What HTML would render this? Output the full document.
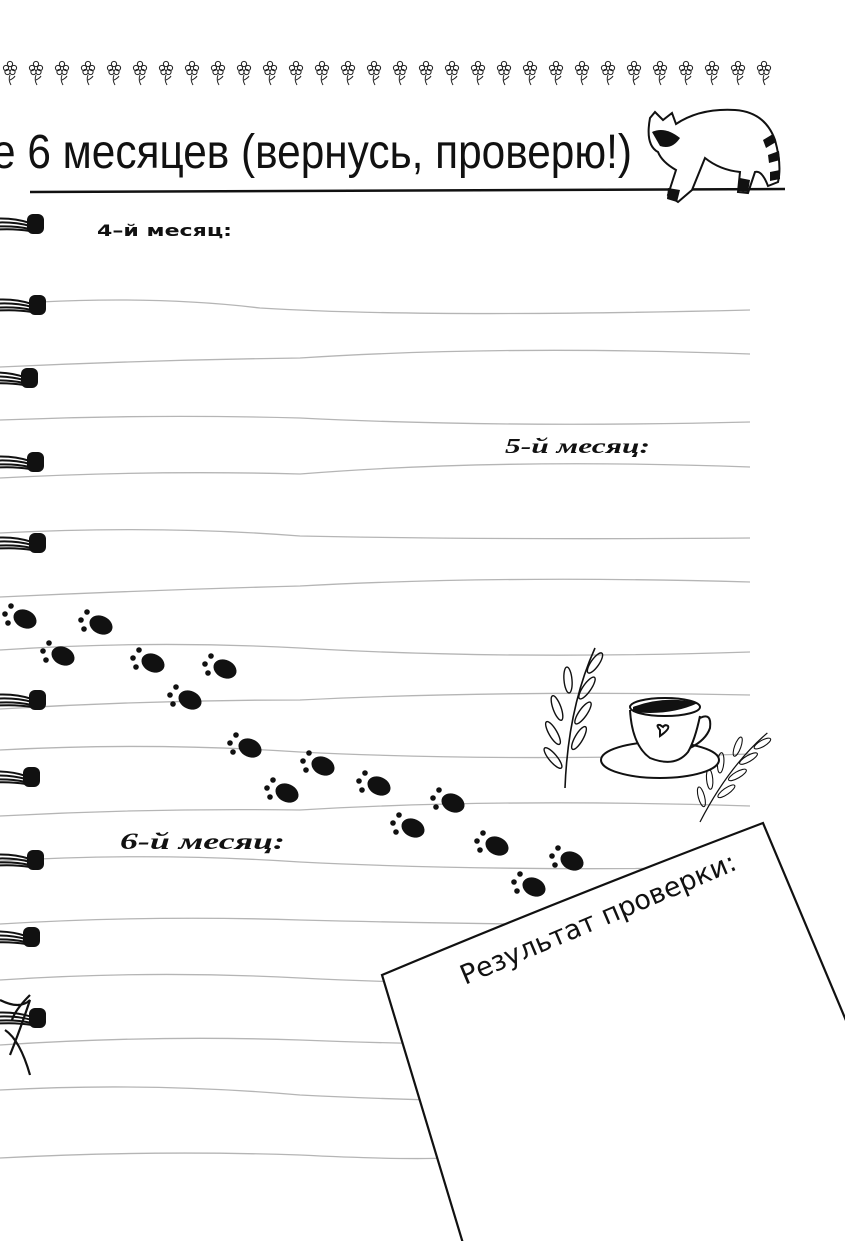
<!DOCTYPE html>
<html><head><meta charset="utf-8"><style>
html,body{margin:0;padding:0;background:#fff;}
svg{display:block;}
</style></head><body>
<svg width="845" height="1241" viewBox="0 0 845 1241" xmlns="http://www.w3.org/2000/svg">
<defs>
<g id="fl">
 <circle cx="0" cy="-4" r="2.6" fill="none" stroke="#222" stroke-width="1"/>
 <circle cx="-4" cy="0" r="2.6" fill="none" stroke="#222" stroke-width="1"/>
 <circle cx="4" cy="0" r="2.6" fill="none" stroke="#222" stroke-width="1"/>
 <circle cx="-2.5" cy="4" r="2.6" fill="none" stroke="#222" stroke-width="1"/>
 <circle cx="2.5" cy="4" r="2.6" fill="none" stroke="#222" stroke-width="1"/>
 <path d="M0 7 Q-2 12 1 17 M0 12 q4 -2 5 -4" fill="none" stroke="#222" stroke-width="1"/>
</g>
<g id="paw">
 <ellipse cx="9" cy="3" rx="12" ry="9" transform="rotate(25 9 3)" fill="#111"/>
 <circle cx="-5" cy="-10" r="2.8" fill="#111"/>
 <circle cx="-11" cy="-2" r="2.8" fill="#111"/>
 <circle cx="-8" cy="7" r="2.8" fill="#111"/>
</g>
<g id="ring">
 <path d="M-10 -5 Q12 -7 30 -1 M-10 -1 Q12 -3 30 2 M-10 3 Q12 1 30 5 M-10 6 Q12 4 30 7" fill="none" stroke="#111" stroke-width="2"/>
 <rect x="27" y="-10" width="17" height="20" rx="6" fill="#111"/>
</g>
<g id="leaf">
 <path d="M0 0 Q3 -80 30 -140" fill="none" stroke="#111" stroke-width="1.6"/>
 <g fill="none" stroke="#111" stroke-width="1.4">
  <ellipse cx="-12" cy="-30" rx="4" ry="13" transform="rotate(-40 -12 -30)"/>
  <ellipse cx="-12" cy="-55" rx="4" ry="13" transform="rotate(-30 -12 -55)"/>
  <ellipse cx="-8" cy="-80" rx="4" ry="13" transform="rotate(-20 -8 -80)"/>
  <ellipse cx="14" cy="-50" rx="4" ry="13" transform="rotate(30 14 -50)"/>
  <ellipse cx="18" cy="-75" rx="4" ry="13" transform="rotate(35 18 -75)"/>
  <ellipse cx="22" cy="-100" rx="4" ry="13" transform="rotate(35 22 -100)"/>
  <ellipse cx="3" cy="-108" rx="4" ry="13" transform="rotate(-5 3 -108)"/>
  <ellipse cx="30" cy="-125" rx="4" ry="12" transform="rotate(35 30 -125)"/>
 </g>
</g>
</defs>

<!-- flowers -->
<g>
 <use href="#fl" x="10" y="68"/><use href="#fl" x="36" y="68"/><use href="#fl" x="62" y="68"/><use href="#fl" x="88" y="68"/><use href="#fl" x="114" y="68"/><use href="#fl" x="140" y="68"/><use href="#fl" x="166" y="68"/><use href="#fl" x="192" y="68"/><use href="#fl" x="218" y="68"/><use href="#fl" x="244" y="68"/><use href="#fl" x="270" y="68"/><use href="#fl" x="296" y="68"/><use href="#fl" x="322" y="68"/><use href="#fl" x="348" y="68"/><use href="#fl" x="374" y="68"/><use href="#fl" x="400" y="68"/><use href="#fl" x="426" y="68"/><use href="#fl" x="452" y="68"/><use href="#fl" x="478" y="68"/><use href="#fl" x="504" y="68"/><use href="#fl" x="530" y="68"/><use href="#fl" x="556" y="68"/><use href="#fl" x="582" y="68"/><use href="#fl" x="608" y="68"/><use href="#fl" x="634" y="68"/><use href="#fl" x="660" y="68"/><use href="#fl" x="686" y="68"/><use href="#fl" x="712" y="68"/><use href="#fl" x="738" y="68"/><use href="#fl" x="764" y="68"/>
</g>

<!-- title -->
<text x="-8" y="168" font-family="'Liberation Sans','DejaVu Sans',sans-serif" font-size="48" fill="#111" textLength="640" lengthAdjust="spacingAndGlyphs">е 6 месяцев (вернусь, проверю!)</text>
<path d="M30 192 L785 189" stroke="#111" stroke-width="2.5"/>

<!-- raccoon (facing left) -->
<g fill="none" stroke="#111" stroke-width="2">
 <path d="M650 118 L655 112 L663 120 L672 113 L676 124 Q700 108 735 110 Q765 112 775 140 Q782 165 778 182 L768 186 Q762 170 755 172 L748 193 L738 192 L740 172 Q720 170 705 158 L692 190 L678 202 L668 195 L676 170 Q662 162 658 152 Q645 145 650 118 Z" fill="#fff"/>
</g>
<path d="M652 132 Q665 126 680 138 Q672 150 660 146 Z" fill="#111"/>
<path d="M763 140 l10 -6 l3 8 l-10 6 Z M768 155 l11 -4 l1 9 l-11 3 Z M770 172 l10 -2 l0 9 l-10 2Z" fill="#111"/>
<path d="M740 178 l10 2 l-2 12 l-10 -1Z M668 188 l12 2 l-3 12 l-10 -3Z" fill="#111"/>

<!-- lines -->
<g fill="none" stroke="#b5b5b5" stroke-width="1.3">
 <path d="M40 302 Q160 296 260 308 Q420 318 750 310"/>
 <path d="M0 367 Q150 360 300 358 Q500 345 750 354"/>
 <path d="M0 420 Q150 414 300 418 Q500 428 750 422"/>
 <path d="M0 478 Q150 470 300 474 Q500 458 750 467"/>
 <path d="M0 533 Q160 525 300 536 Q500 540 750 538"/>
 <path d="M0 597 Q150 590 300 586 Q500 575 750 582"/>
 <path d="M0 650 Q150 640 300 648 Q500 660 750 652"/>
 <path d="M0 709 Q150 700 300 700 Q500 690 750 695"/>
 <path d="M0 750 Q150 742 300 752 Q500 762 750 754"/>
 <path d="M0 816 Q150 808 300 810 Q500 798 750 806"/>
 <path d="M0 861 Q150 852 300 862 Q500 872 750 867"/>
 <path d="M0 924 Q150 915 300 920 Q500 925 750 926"/>
 <path d="M0 980 Q150 970 300 978 Q500 988 750 982"/>
 <path d="M0 1045 Q150 1035 300 1040 Q500 1048 750 1043"/>
 <path d="M0 1090 Q150 1082 300 1095 Q500 1105 750 1102"/>
 <path d="M0 1158 Q150 1150 300 1155 Q400 1160 450 1158"/>
</g>

<!-- rings -->
<use href="#ring" x="0" y="224"/><use href="#ring" x="2" y="305"/><use href="#ring" x="-6" y="378"/><use href="#ring" x="0" y="462"/><use href="#ring" x="2" y="543"/><use href="#ring" x="2" y="700"/><use href="#ring" x="-4" y="777"/><use href="#ring" x="0" y="860"/><use href="#ring" x="-4" y="937"/><use href="#ring" x="2" y="1018"/>
<path d="M0 1000 Q20 1010 30 1000 Q20 1030 10 1055 M5 1030 Q20 1040 30 1075 M30 995 Q15 1010 12 1020" fill="none" stroke="#111" stroke-width="2.2"/>

<!-- labels -->
<text x="97" y="236" font-family="'DejaVu Sans',sans-serif" font-weight="bold" font-size="16" fill="#111" textLength="135" lengthAdjust="spacingAndGlyphs">4–й месяц:</text>
<text x="505" y="453" font-family="'Liberation Serif',serif" font-style="italic" font-weight="bold" font-size="21" fill="#111" textLength="145" lengthAdjust="spacingAndGlyphs">5-й месяц:</text>
<text x="120" y="849" font-family="'Liberation Serif',serif" font-style="italic" font-weight="bold" font-size="23" fill="#111" textLength="165" lengthAdjust="spacingAndGlyphs">6-й месяц:</text>

<!-- paws -->
<use href="#paw" x="16" y="616"/><use href="#paw" x="92" y="622"/><use href="#paw" x="54" y="653"/><use href="#paw" x="144" y="660"/><use href="#paw" x="216" y="666"/><use href="#paw" x="181" y="697"/><use href="#paw" x="241" y="745"/><use href="#paw" x="314" y="763"/><use href="#paw" x="278" y="790"/><use href="#paw" x="370" y="783"/><use href="#paw" x="444" y="800"/><use href="#paw" x="404" y="825"/><use href="#paw" x="488" y="843"/><use href="#paw" x="563" y="858"/><use href="#paw" x="525" y="884"/>

<!-- plants & cup -->
<use href="#leaf" x="565" y="788"/>
<g transform="translate(700 822) rotate(25)"><g transform="scale(0.78)"><use href="#leaf"/></g></g>
<g fill="none" stroke="#111" stroke-width="2">
 <ellipse cx="660" cy="760" rx="59" ry="18" fill="#fff"/>
 <path d="M630 710 Q632 745 650 758 Q675 768 688 752 Q695 740 700 716" fill="#fff"/>
 <path d="M700 718 Q712 712 710 728 Q706 740 690 748"/>
 <ellipse cx="665" cy="707" rx="35" ry="9" fill="#fff"/>
 <path d="M660 730 q-5 -6 0 -5 q3 2 3 2 q2 -3 5 -1 q2 3 -8 10z"/>
</g>
<path d="M633 707 Q665 695 698 703 Q670 716 633 712Z" fill="#111"/>

<!-- result box -->
<path d="M382 975 Q560 900 763 823 L850 1030 L850 1250 L465 1250 Z" fill="#fff" stroke="#111" stroke-width="2.2"/>
<text transform="translate(465 985) rotate(-23)" font-family="'DejaVu Sans',sans-serif" font-size="27" fill="#111">Результат проверки:</text>
</svg>
</body></html>
